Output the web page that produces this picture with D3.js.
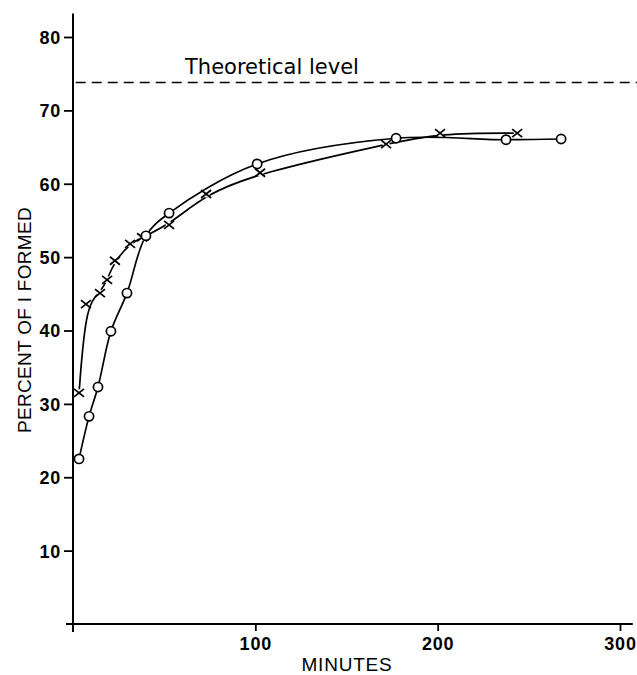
<!DOCTYPE html>
<html>
<head>
<meta charset="utf-8">
<script src="https://cdn.jsdelivr.net/npm/d3@7"></script>
<style>
  html, body { margin: 0; padding: 0; background: #fff; }
  svg { display: block; }
  text { font-family: "Liberation Sans", Arial, sans-serif; fill: #000; }
</style>
</head>
<body>
<svg id="chart" width="637" height="675"></svg>
<script>
// ---- data ----
const circleMinutes = [3.3, 8.8, 13.7, 20.8, 29.6, 40.0, 52.7, 101.0, 177.2, 237.5, 267.7];
const circlePercent = [22.5, 28.3, 32.3, 39.9, 45.1, 52.9, 56.0, 62.7, 66.2, 66.0, 66.1];

const crossMinutes = [3.3, 7.1, 14.8, 18.7, 23.0, 31.3, 37.9, 52.7, 73.0, 102.6, 171.7, 201.3, 243.6];
const crossPercent = [31.5, 43.6, 45.1, 46.9, 49.5, 51.8, 52.7, 54.4, 58.6, 61.5, 65.4, 66.9, 66.9];

const theoreticalLevel = 73.8;
const theoreticalLabel = "Theoretical level";

const xTicks = [100, 200, 300];
const yTicks = [10, 20, 30, 40, 50, 60, 70, 80];
const xTitle = "MINUTES";
const yTitle = "PERCENT OF I FORMED";

// ---- layout ----
const svg = d3.select("#chart");
const x = d3.scaleLinear().domain([0, 300]).range([73, 620]);
const y = d3.scaleLinear().domain([0, 80]).range([624, 37]);

const circles = circleMinutes.map((m, i) => ({ m, p: circlePercent[i] }));
const crosses = crossMinutes.map((m, i) => ({ m, p: crossPercent[i] }));

// axes
const yAxis = d3.axisLeft(y).tickValues(yTicks).tickSize(9).tickPadding(3).tickSizeOuter(0);
const xAxis = d3.axisBottom(x).tickValues(xTicks).tickSize(7).tickPadding(6).tickSizeOuter(0);

const gy = svg.append("g").attr("transform", `translate(${x(0)},0)`).call(yAxis);
const gx = svg.append("g").attr("transform", `translate(0,${y(0)})`).call(xAxis);

[gx, gy].forEach(g => {
  g.select(".domain").remove();
  g.selectAll(".tick line").attr("stroke", "#000").attr("stroke-width", 1.8);
  g.selectAll(".tick text")
    .style("font-family", '"Liberation Sans", Arial, sans-serif')
    .style("font-size", "18px")
    .style("font-weight", "bold")
    .style("letter-spacing", "0.8px")
    .attr("fill", "#000");
});
gy.selectAll(".tick text").attr("dy", "0.36em");

// extended axis lines
svg.append("line")
  .attr("x1", x(0)).attr("x2", x(0))
  .attr("y1", y(83.2)).attr("y2", y(0) + 8)
  .attr("stroke", "#000").attr("stroke-width", 2);
svg.append("line")
  .attr("x1", x(0) - 7).attr("x2", x(307))
  .attr("y1", y(0)).attr("y2", y(0))
  .attr("stroke", "#000").attr("stroke-width", 2);

// titles
svg.append("text")
  .attr("x", 347)
  .attr("y", 671)
  .attr("text-anchor", "middle")
  .style("font-size", "19px")
  .style("letter-spacing", "0.8px")
  .text(xTitle);

svg.append("text")
  .attr("transform", `translate(31,${(207 + 433) / 2}) rotate(-90)`)
  .attr("text-anchor", "middle")
  .style("font-size", "19px")
  .style("letter-spacing", "0.3px")
  .text(yTitle);

// theoretical level
svg.append("line")
  .attr("x1", x(1.5)).attr("x2", 637)
  .attr("y1", y(theoreticalLevel)).attr("y2", y(theoreticalLevel))
  .attr("stroke", "#000").attr("stroke-width", 1.6)
  .attr("stroke-dasharray", "10,6");
svg.append("text")
  .attr("x", 185)
  .attr("y", y(theoreticalLevel) - 8)
  .style("font-family", '"DejaVu Sans", sans-serif')
  .style("font-size", "21px")
  .style("font-weight", "normal")
  .text(theoreticalLabel);

// curves
const circleLine = d3.line().x(d => x(d.m)).y(d => y(d.p)).curve(d3.curveCatmullRom.alpha(0.5));
const crossLine = d3.line().x(d => x(d.m)).y(d => y(d.p)).curve(d3.curveBasis);

svg.append("path").datum(crosses).attr("d", crossLine)
  .attr("fill", "none").attr("stroke", "#000").attr("stroke-width", 1.7);
svg.append("path").datum(circles).attr("d", circleLine)
  .attr("fill", "none").attr("stroke", "#000").attr("stroke-width", 1.7);

// cross markers (with white gap)
const cg = svg.append("g").selectAll("g").data(crosses).join("g")
  .attr("transform", d => `translate(${x(d.m)},${y(d.p)})`);
cg.append("circle").attr("r", 3.5).attr("fill", "#fff");
cg.append("path").attr("d", "M-5,-4L5,4M-5,4L5,-4")
  .attr("stroke", "#000").attr("stroke-width", 1.8).attr("fill", "none");

// circle markers
svg.append("g").selectAll("circle").data(circles).join("circle")
  .attr("cx", d => x(d.m)).attr("cy", d => y(d.p)).attr("r", 4.6)
  .attr("fill", "#fff").attr("stroke", "#000").attr("stroke-width", 1.7);
</script>
</body>
</html>
